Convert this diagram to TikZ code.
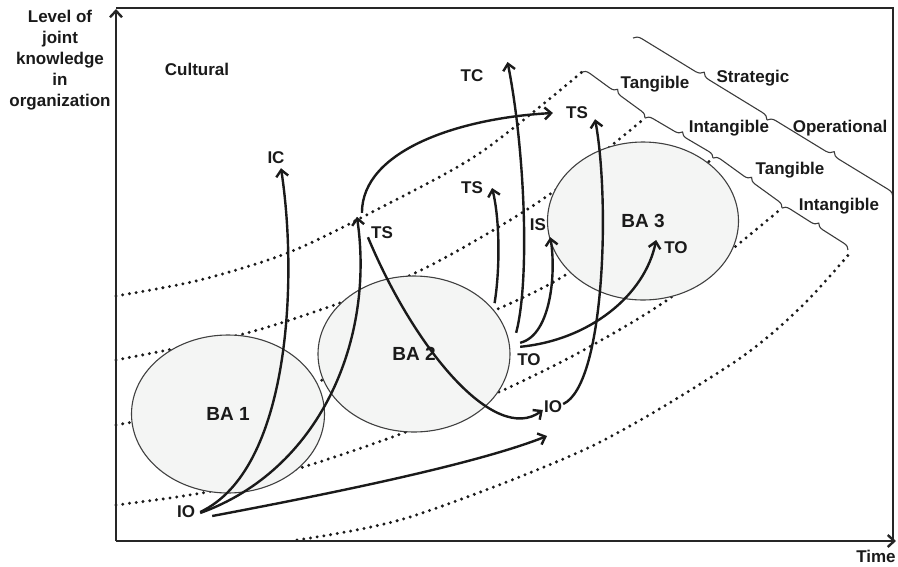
\documentclass[tikz,border=0pt]{standalone}
\usepackage{fontspec}
\setmainfont{Liberation Sans}
\usetikzlibrary{arrows.meta,shapes.geometric,decorations.pathreplacing}
\definecolor{ink}{HTML}{1A1A1A}
\definecolor{rim}{HTML}{404040}
\definecolor{bafill}{HTML}{F4F5F4}
\definecolor{framegray}{HTML}{262626}
\begin{document}
\begin{tikzpicture}[x=1pt,y=-1pt,
  lbl/.style={font=\bfseries\fontsize{17}{21}\selectfont, text=ink, inner sep=0pt},
  flow/.style={draw=ink, line width=2.4pt, -{Straight Barb[length=6.5pt,width=12pt]}},
  level/.style={draw=ink, line width=3.3pt, line cap=round, dash pattern=on 0pt off 6.8pt},
  ba/.style={ellipse, draw=rim, line width=1.1pt, fill=bafill, inner sep=0pt,
    font=\bfseries\fontsize{19}{22}\selectfont, text=ink},
  bracket/.style={draw=ink!85, line width=1.1pt, decorate, decoration={brace, amplitude=7pt}},
  axis/.style={draw=framegray, line width=2.4pt, -{Straight Barb[length=6.5pt,width=12pt]}},
  border/.style={draw=framegray, line width=2.4pt},
]
\useasboundingbox (0,0) rectangle (898,566);

% knowledge levels (dotted bands)
\draw[level] plot[smooth] coordinates {(116,296) (200,280) (290,252) (380,208) (480,153) (582,72)};
\draw[level] plot[smooth] coordinates {(116,360) (243,334) (340,303) (413,274) (480,238) (553,192) (645,118)};
\draw[level] plot[smooth] coordinates {(116,425) (225,405) (317,382) (493,311) (567,274) (640,220) (713,158)};
\draw[level] plot[smooth] coordinates {(116,505) (207,492) (300,468) (403,433) (497,393) (580,352) (673,296) (782,208)};
\draw[level] plot[smooth] coordinates {(297,540) (410,517) (590,447) (733,363) (800,308) (850,253)};

% braces naming the bands
\draw[bracket] (582,72) -- (645,118);
\draw[bracket] (645,118) -- (713,158);
\draw[bracket] (713,158) -- (782,208);
\draw[bracket] (782,208) -- (848,250);
\draw[bracket, decoration={amplitude=8pt}] (633,38) -- (767,120);
\draw[bracket, decoration={amplitude=8pt}] (767,120) -- (893,197);

\node[lbl] (tang1) at (655,84) {Tangible};
\node[lbl] (intang1) at (729,128) {Intangible};
\node[lbl] (tang2) at (790,170) {Tangible};
\node[lbl] (intang2) at (839,206) {Intangible};
\node[lbl] (strat) at (753,78) {Strategic};
\node[lbl] (oper) at (840,128) {Operational};

% the three ba
\node[ba, minimum width=193pt, minimum height=158pt] (ba1) at (228,414) {BA 1};
\node[ba, minimum width=192pt, minimum height=156pt] (ba2) at (414,354) {BA 2};
\node[ba, minimum width=191pt, minimum height=158pt] (ba3) at (643,221) {BA 3};

% axes and frame
\draw[border] (116,8) -- (893,8) -- (893,541);
\draw[axis] (116,541) -- (116,9);
\draw[axis] (116,541) -- (896,541);

\node[lbl, align=center, anchor=north] (ylabel) at (60,10) {Level of\\joint\\knowledge\\in\\organization};
\node[lbl] (xlabel) at (876,556) {Time};
\node[lbl] (cult) at (197,69) {Cultural};

% knowledge labels
\node[lbl] (ic) at (276,158) {IC};
\node[lbl] (tc) at (472,76) {TC};
\node[lbl] (ts1) at (382,233) {TS};
\node[lbl] (ts2) at (472,188) {TS};
\node[lbl] (ts3) at (577,113) {TS};
\node[lbl] (is) at (538,225) {IS};
\node[lbl] (to1) at (529,360) {TO};
\node[lbl] (to2) at (676,248) {TO};
\node[lbl] (io1) at (186,512) {IO};
\node[lbl] (io2) at (553,407) {IO};
\coordinate (drift) at (547,436);

% conversion paths
\draw[flow] ([xshift=5pt]io1.east) .. controls (290,470) and (298,280) .. ([xshift=5pt,yshift=-4pt]ic.south);
\draw[flow] ([xshift=5pt,yshift=-1pt]io1.east) .. controls (320,470) and (375,340) .. ([xshift=-14pt,yshift=10pt]ts1.north west);
\draw[flow] ([xshift=-9pt,yshift=14pt]ts1.north west) .. controls (362,150) and (460,118) .. ([xshift=-13pt]ts3.west);
\draw[flow] ([xshift=-3pt,yshift=2pt]ts1.south west) .. controls (415,350) and (495,445) .. ([xshift=-1pt,yshift=-3pt]io2.west);
\draw[flow] ([xshift=17pt,yshift=-4pt]io1.east) .. controls (377,485) and (489,459) .. (drift);
\draw[flow] ([xshift=-1pt,yshift=21pt]to1.north west) .. controls (530,280) and (525,150) .. ([xshift=24pt,yshift=14pt]tc.east);
\draw[flow] ([xshift=4pt,yshift=3pt]ba2.32) .. controls (500,270) and (500,220) .. ([xshift=9pt]ts2.east);
\draw[flow] ([xshift=3pt,yshift=11pt]to1.north west) .. controls (552,335) and (556,270) .. ([xshift=4pt,yshift=-6pt]is.south east);
\draw[flow] ([xshift=3pt,yshift=7pt]to1.north west) .. controls (590,340) and (645,295) .. ([xshift=-8pt,yshift=8pt]to2.west);
\draw[flow] ([xshift=1pt,yshift=3pt]io2.east) .. controls (605,385) and (610,200) .. ([xshift=7pt]ts3.south east);
\end{tikzpicture}
\end{document}
